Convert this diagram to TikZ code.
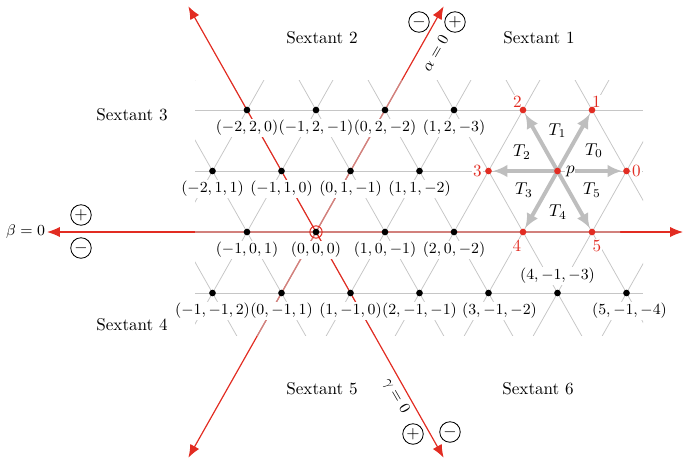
\documentclass[tikz,border=0pt]{standalone}
\usetikzlibrary{arrows.meta}
\definecolor{myred}{RGB}{226,44,34}
\definecolor{gridgray}{RGB}{198,198,198}
\definecolor{arrgray}{RGB}{190,190,190}
\begin{document}
\begin{tikzpicture}[x=0.585pt,y=-0.585pt,
  gridline/.style={gridgray, line width=0.45pt},
  redline/.style={myred, line width=0.7pt, {Latex[length=7.5pt,width=6pt]}-{Latex[length=7.5pt,width=6pt]}},
  overlay/.style={gridgray, line width=0.8pt, opacity=0.55},
  dotb/.style={circle, fill=black, inner sep=0pt, minimum size=3.9pt},
  dotr/.style={circle, fill=myred, inner sep=0pt, minimum size=3.9pt},
  lab/.style={font=\small, inner sep=1pt},
  rnum/.style={text=myred, inner sep=0.5pt, fill=white},
  pm/.style={circle, draw, line width=0.5pt, inner sep=0pt, minimum size=12pt},
  garrow/.style={arrgray, line width=2.3pt, -{Latex[length=8.5pt,width=7.5pt]}, shorten >=2.6pt}
]
\useasboundingbox (0,0) rectangle (684,463);

% lattice coordinates
\foreach \a in {-3,...,6} \foreach \b in {-1,...,2}
  \coordinate (L\a x\b) at ({316+69*\a+34.5*\b},{232-61*\b});

\coordinate (O) at (316,232);
\coordinate (gtop) at ({316-3.7*34.5},{232-3.7*61});
\coordinate (gbot) at ({316+3.7*34.5},{232+3.7*61});
\coordinate (atop) at ({316+3.7*34.5},{232-3.7*61});
\coordinate (abot) at ({316-3.7*34.5},{232+3.7*61});
\coordinate (bl) at (47,232);
\coordinate (br) at (683,232);

% grid
\begin{scope}
\clip (195,80) rectangle (643,335);
\foreach \y in {110,171,232,293} \draw[gridline] (195,\y) -- (643,\y);
\foreach \k in {-6,...,8} {
  \draw[gridline] ({316+69*\k-4*34.5},{232-4*61}) -- ({316+69*\k+4*34.5},{232+4*61});
  \draw[gridline] ({316+69*\k+4*34.5},{232-4*61}) -- ({316+69*\k-4*34.5},{232+4*61});
}
\end{scope}

% alpha and beta lines, greyed where they run along the grid
\draw[redline] (abot) -- (atop);
\draw[redline] (bl) -- (br);
\begin{scope}
\clip (195,80) rectangle (620,335);
\draw[overlay] (abot) -- (atop);
\draw[overlay] (bl) -- (br);
\end{scope}

% gamma line (bright, over the grid)
\draw[redline] (gtop) -- (gbot);

% coordinate labels: white fills first, then the texts
\foreach \a/\b/\s in {-2/2/0,-1/2/0,0/2/0,1/2/0,-2/1/0,-1/1/0,0/1/0,1/1/0,-1/0/0,0/0/0,1/0/0,2/0/0,-1/-1/0,0/-1/0,1/-1/0,2/-1/0,3/-1/11,5/-1/3} {
  \pgfmathtruncatemacro{\c}{0-(\a)-(\b)}
  \path (L\a x\b) ++(\s,18) node[lab,fill=white]{\phantom{$(\a,\b,\c)$}};
}
\foreach \a/\b/\s in {-2/2/0,-1/2/0,0/2/0,1/2/0,-2/1/0,-1/1/0,0/1/0,1/1/0,-1/0/0,0/0/0,1/0/0,2/0/0,-1/-1/0,0/-1/0,1/-1/0,2/-1/0,3/-1/11,5/-1/3} {
  \pgfmathtruncatemacro{\c}{0-(\a)-(\b)}
  \path (L\a x\b) ++(\s,18) node[lab]{$(\a,\b,\c)$};
}
\path (L4x-1) ++(0,-17) node[lab,fill=white] (l43) {$(4,-1,-3)$};

% hexagon labels
\path (L2x2) ++(-5.5,-8.5) node[rnum] (t2) {2};
\path (L3x2) ++(4.5,-8.5) node[rnum] (t1) {1};
\path (L2x1) ++(-11,0) node[rnum] (t3) {3};
\path (L4x1) ++(10,0) node[rnum] (t0) {0};
\path (L3x0) ++(-6,14) node[rnum] (t4) {4};
\path (L4x0) ++(5,14) node[rnum] (t5) {5};
\path (L3x1) ++(13,0) node[inner sep=0.5pt, fill=white] (pl) {$p$};

% triangle labels (centroids)
\node (T1) at (557.5,130.5) {$T_1$};
\node (T0) at (594,150.5) {$T_0$};
\node (T2) at (522,152) {$T_2$};
\node (T3) at (524,190) {$T_3$};
\node (T5) at (592,190) {$T_5$};
\node (T4) at (558,212) {$T_4$};

% gray arrows from p
\draw[garrow, shorten <=10pt] (L3x1) -- (L4x1);
\draw[garrow] (L3x1) -- (L3x2);
\draw[garrow] (L3x1) -- (L2x2);
\draw[garrow] (L3x1) -- (L2x1);
\draw[garrow] (L3x1) -- (L3x0);
\draw[garrow] (L3x1) -- (L4x0);

% dots
\foreach \a/\b in {-2/2,-1/2,0/2,1/2,-2/1,-1/1,0/1,1/1,-1/0,0/0,1/0,2/0,-1/-1,0/-1,1/-1,2/-1,3/-1,4/-1,5/-1}
  \node[dotb] at (L\a x\b) {};
\foreach \a/\b in {2/2,3/2,2/1,3/1,4/1,3/0,4/0}
  \node[dotr] at (L\a x\b) {};
\draw[myred, line width=0.6pt] (O) circle[radius=3.6pt];

% axis labels and signs
\node[font=\small, anchor=east, inner sep=1pt] (bz) at (bl) {$\beta=0$};
\node[font=\small, rotate=60] (az) at (435,53) {$\alpha=0$};
\node[font=\small, rotate=-60] (gz) at (396,396) {$\gamma=0$};
\node[pm] (bp) at (81,215) {$+$};
\node[pm] (bm) at (81,248) {$-$};
\node[pm] (am) at (419,22) {$-$};
\node[pm] (ap) at (455,22) {$+$};
\node[pm] (gp) at (413,434) {$+$};
\node[pm] (gm) at (450,432) {$-$};

% sextants
\node (s1) at (539,38) {Sextant 1};
\node (s2) at (322,38) {Sextant 2};
\node (s3) at (132,115) {Sextant 3};
\node (s4) at (132,325) {Sextant 4};
\node (s5) at (322,389) {Sextant 5};
\node (s6) at (538,389) {Sextant 6};
\end{tikzpicture}
\end{document}
